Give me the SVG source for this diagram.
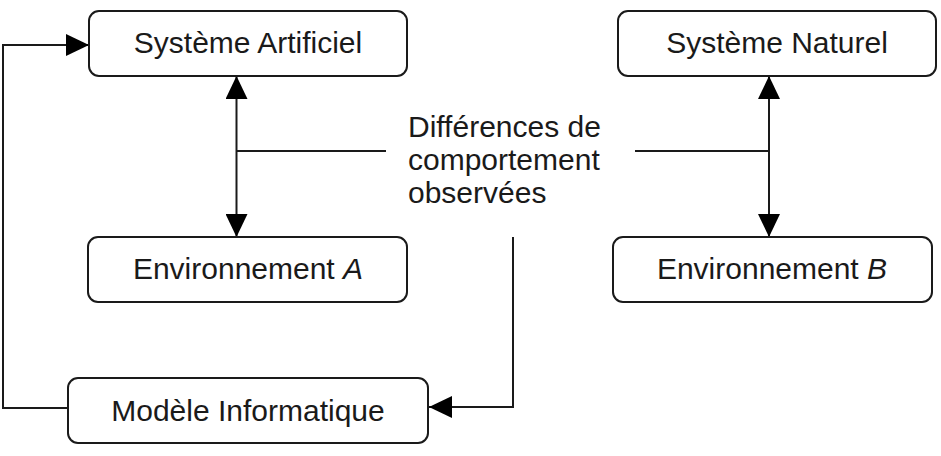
<svg xmlns="http://www.w3.org/2000/svg" width="941" height="456" viewBox="0 0 941 456">
<style>
.box{fill:#fff;stroke:#1a1a1a;stroke-width:2}
.lbl{font-family:"Liberation Sans",Arial,sans-serif;font-size:30px;fill:#1a1a1a}
.c{text-anchor:middle}
.wire{fill:none;stroke:#1a1a1a;stroke-width:2}
</style>
<defs>
<marker id="ah" markerUnits="userSpaceOnUse" markerWidth="24" markerHeight="22" refX="23" refY="11" orient="auto-start-reverse" viewBox="0 0 24 22">
<path d="M0,0 L23,11 L0,22 Z" fill="#000"/>
</marker>
</defs>
<g id="connectors">
<path class="wire" d="M236,151 H386"/>
<path class="wire" d="M236.5,76 V237" marker-start="url(#ah)" marker-end="url(#ah)"/>
<path class="wire" d="M635,151 H769"/>
<path class="wire" d="M769,76 V237" marker-start="url(#ah)" marker-end="url(#ah)"/>
<path class="wire" d="M68,408 H3 V45 H89" marker-end="url(#ah)"/>
<path class="wire" d="M513,237 V407 H429" marker-end="url(#ah)"/>
</g>
<g id="sys-artificiel">
<rect class="box" x="89" y="11" width="318" height="65" rx="10"/>
<text class="lbl c" x="248" y="53">Système Artificiel</text>
</g>
<g id="sys-naturel">
<rect class="box" x="618" y="11" width="318" height="65" rx="10"/>
<text class="lbl c" x="777" y="53">Système Naturel</text>
</g>
<g id="env-a">
<rect class="box" x="88" y="237" width="319" height="65" rx="10"/>
<text class="lbl c" x="248" y="279">Environnement <tspan font-style="italic">A</tspan></text>
</g>
<g id="env-b">
<rect class="box" x="613" y="237" width="319" height="65" rx="10"/>
<text class="lbl c" x="772" y="279">Environnement <tspan font-style="italic">B</tspan></text>
</g>
<g id="modele">
<rect class="box" x="68" y="378" width="360" height="65" rx="10"/>
<text class="lbl c" x="248" y="421">Modèle Informatique</text>
</g>
<g id="differences">
<text class="lbl" x="408" y="137">Différences de</text>
<text class="lbl" x="408" y="170">comportement</text>
<text class="lbl" x="408" y="203">observées</text>
</g>
</svg>
